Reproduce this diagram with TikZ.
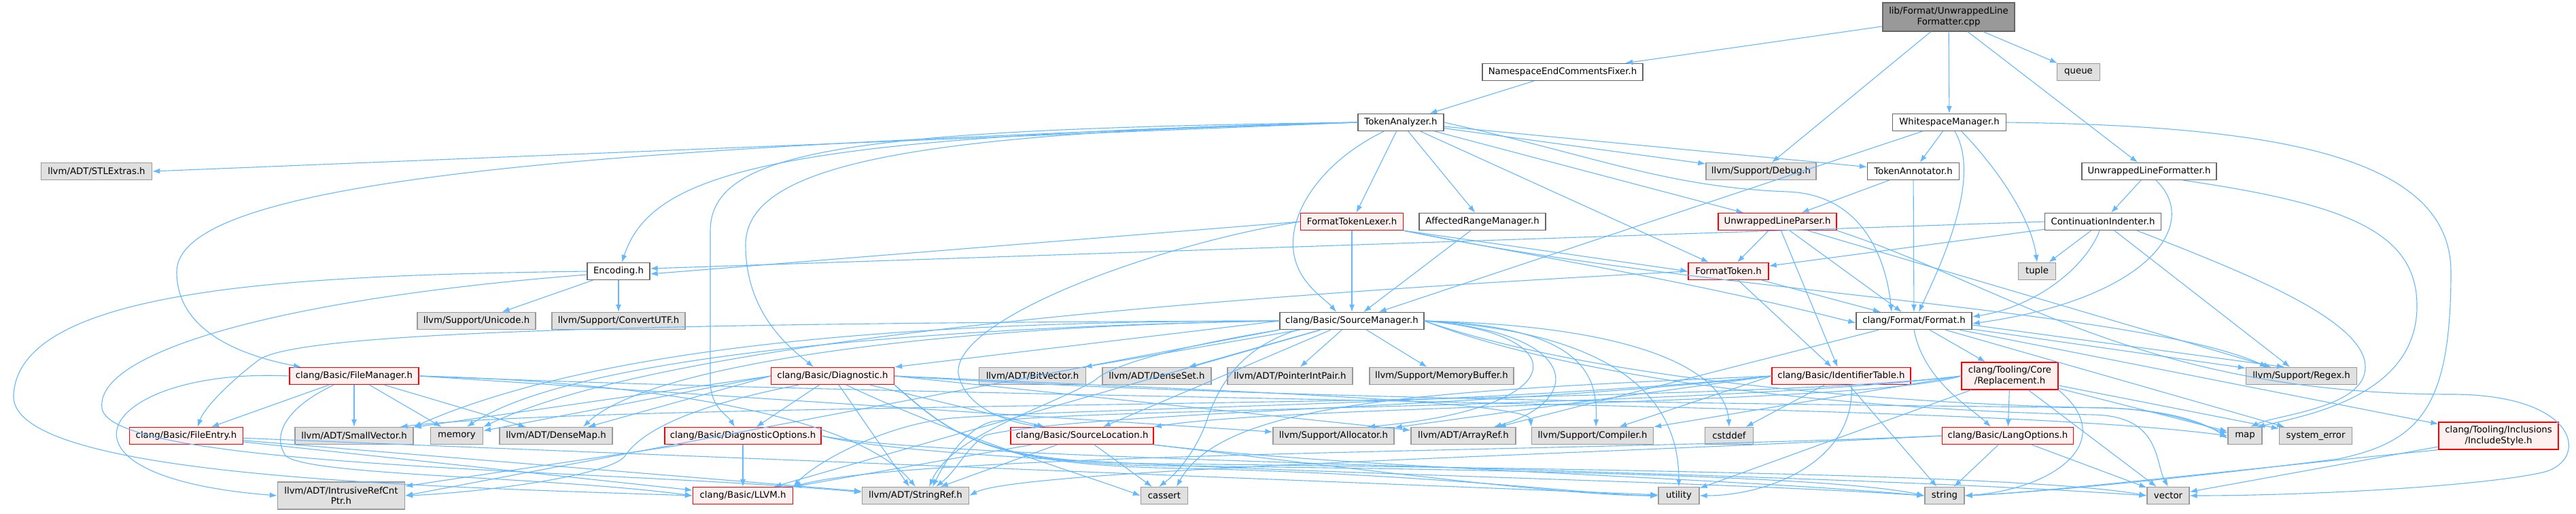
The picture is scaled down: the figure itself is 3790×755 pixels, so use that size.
\documentclass[tikz,border=0pt]{standalone}
\usepackage{fontspec}
\setmainfont{DejaVu Sans}
\usetikzlibrary{arrows.meta}
\definecolor{edgeblue}{HTML}{63B8FF}
\definecolor{extgray}{HTML}{E0E0E0}
\definecolor{truncpink}{HTML}{FFF0F0}
\definecolor{rootgray}{HTML}{999999}
\definecolor{framegray}{HTML}{666666}

\begin{document}
\begin{tikzpicture}[
    x=1pt, y=-1pt,
    filebox/.style={
        rectangle,
        draw=framegray,
        fill=white,
        line width=1.3pt,
        align=center,
        minimum height=25pt,
        inner xsep=4pt,
        inner ysep=2pt,
        font=\fontsize{13.3}{15.5}\selectfont
    },
    extbox/.style={filebox, draw=rootgray, fill=extgray},
    truncbox/.style={filebox, draw=red, fill=truncpink},
    rootbox/.style={filebox, fill=rootgray},
    arrow/.style={-{Latex[length=11pt,width=8pt]}, draw=edgeblue, line width=1.1pt}
]
\useasboundingbox (0,0) rectangle (3790,755);

% Top rows: the source file and the headers it pulls in
\node[rootbox, minimum width=194pt, minimum height=42pt] (root) at (2867,25) {lib/Format/UnwrappedLine\\Formatter.cpp};
\node[filebox, minimum width=236pt] (nsfixer) at (2299,106) {NamespaceEndCommentsFixer.h};
\node[extbox, minimum width=63pt] (queue) at (3058,106) {queue};
\node[filebox, minimum width=126pt] (analyzer) at (2061,180) {TokenAnalyzer.h};
\node[filebox, minimum width=167pt] (wsmanager) at (2868,180) {WhitespaceManager.h};
\node[extbox, minimum width=163pt] (stlextras) at (142,252) {llvm/ADT/STLExtras.h};
\node[extbox, minimum width=162pt] (debug) at (2591,252) {llvm/Support/Debug.h};
\node[filebox, minimum width=135pt] (annotator) at (2815,252) {TokenAnnotator.h};
\node[filebox, minimum width=198pt] (ulformatter) at (3162,252) {UnwrappedLineFormatter.h};
\node[truncbox, minimum width=151pt] (lexer) at (1989,326) {FormatTokenLexer.h};
\node[filebox, minimum width=186pt] (affected) at (2181,326) {AffectedRangeManager.h};
\node[truncbox, minimum width=174pt] (ulparser) at (2615,326) {UnwrappedLineParser.h};
\node[filebox, minimum width=171pt] (indenter) at (3094,326) {ContinuationIndenter.h};
\node[filebox, minimum width=92pt] (encoding) at (910,399) {Encoding.h};
\node[truncbox, minimum width=118pt] (fmttoken) at (2543,399) {FormatToken.h};
\node[extbox, minimum width=55pt] (tuple) at (2997,399) {tuple};
\node[extbox, minimum width=174pt] (unicode) at (701,472) {llvm/Support/Unicode.h};
\node[extbox, minimum width=196pt] (convertutf) at (910,472) {llvm/Support/ConvertUTF.h};
\node[filebox, minimum width=212pt] (srcmgr) at (1989,472) {clang/Basic/SourceManager.h};
\node[filebox, minimum width=170pt] (format) at (2816,472) {clang/Format/Format.h};

% Lower rows: clang, llvm and std headers
\node[truncbox, minimum width=190pt] (filemgr) at (521,553) {clang/Basic/FileManager.h};
\node[truncbox, minimum width=181pt] (diag) at (1225,553) {clang/Basic/Diagnostic.h};
\node[extbox, minimum width=157pt] (bitvector) at (1519,553) {llvm/ADT/BitVector.h};
\node[extbox, minimum width=160pt] (denseset) at (1702,553) {llvm/ADT/DenseSet.h};
\node[extbox, minimum width=184pt] (ptrintpair) at (1898,553) {llvm/ADT/PointerIntPair.h};
\node[extbox, minimum width=212pt] (membuffer) at (2121,553) {llvm/Support/MemoryBuffer.h};
\node[truncbox, minimum width=204pt] (identtable) at (2709,553) {clang/Basic/IdentifierTable.h};
\node[truncbox, minimum width=142pt, minimum height=40pt] (replacement) at (2957,553) {clang/Tooling/Core\\/Replacement.h};
\node[extbox, minimum width=163pt] (regex) at (3386,553) {llvm/Support/Regex.h};
\node[truncbox, minimum width=167pt] (fileentry) at (274,641) {clang/Basic/FileEntry.h};
\node[extbox, minimum width=174pt] (smallvec) at (521,641) {llvm/ADT/SmallVector.h};
\node[extbox, minimum width=77pt] (memory) at (672,641) {memory};
\node[extbox, minimum width=166pt] (densemap) at (818,641) {llvm/ADT/DenseMap.h};
\node[truncbox, minimum width=230pt] (diagopts) at (1093,641) {clang/Basic/DiagnosticOptions.h};
\node[truncbox, minimum width=210pt] (srcloc) at (1592,641) {clang/Basic/SourceLocation.h};
\node[extbox, minimum width=178pt] (allocator) at (1962,641) {llvm/Support/Allocator.h};
\node[extbox, minimum width=154pt] (arrayref) at (2153,641) {llvm/ADT/ArrayRef.h};
\node[extbox, minimum width=179pt] (compiler) at (2343,641) {llvm/Support/Compiler.h};
\node[extbox, minimum width=71pt] (cstddef) at (2544,641) {cstddef};
\node[truncbox, minimum width=193pt] (langopts) at (2954,641) {clang/Basic/LangOptions.h};
\node[extbox, minimum width=50pt] (map) at (3303,641) {map};
\node[extbox, minimum width=107pt] (syserror) at (3407,641) {system\_error};
\node[truncbox, minimum width=176pt, minimum height=40pt] (inclstyle) at (3676,641) {clang/Tooling/Inclusions\\/IncludeStyle.h};
\node[extbox, minimum width=187pt, minimum height=40pt] (refcntptr) at (502,729) {llvm/ADT/IntrusiveRefCnt\\Ptr.h};
\node[truncbox, minimum width=147pt] (llvm) at (1093,729) {clang/Basic/LLVM.h};
\node[extbox, minimum width=157pt] (stringref) at (1347,729) {llvm/ADT/StringRef.h};
\node[extbox, minimum width=69pt] (cassert) at (1713,729) {cassert};
\node[extbox, minimum width=60pt] (utility) at (2470,729) {utility};
\node[extbox, minimum width=58pt] (string) at (2861,729) {string};
\node[extbox, minimum width=62pt] (vector) at (3190,729) {vector};

% UnwrappedLineFormatter.cpp
\draw[arrow] (root) -- (nsfixer);
\draw[arrow] (root) -- (debug);
\draw[arrow] (root) -- (wsmanager);
\draw[arrow] (root) -- (ulformatter);
\draw[arrow] (root) -- (queue);
\draw[arrow] (nsfixer) -- (analyzer);

% TokenAnalyzer.h
\draw[arrow] (analyzer.west) -- (stlextras.east);
\draw[arrow] (analyzer.west) .. controls (900,215) and (260,260) .. (260,400) .. controls (260,480) and (340,520) .. ([xshift=-78]filemgr.north);
\draw[arrow] (analyzer.west) .. controls (1150,200) and (960,250) .. ([xshift=5]encoding.north);
\draw[arrow] (analyzer.west) .. controls (1250,190) and (1045,220) .. (1045,340) -- (1045,560) .. controls (1045,600) and (1070,610) .. ([xshift=-12]diagopts.north);
\draw[arrow] (analyzer.west) .. controls (1350,195) and (1097,240) .. (1097,360) .. controls (1097,460) and (1160,510) .. ([xshift=-28]diag.north);
\draw[arrow] ([xshift=-25]analyzer.south) .. controls (1940,240) and (1890,320) .. (1905,380) .. controls (1915,420) and (1950,440) .. ([xshift=-23]srcmgr.north);
\draw[arrow] (analyzer) -- (lexer);
\draw[arrow] (analyzer) -- (affected);
\draw[arrow] (analyzer) -- (fmttoken);
\draw[arrow] (analyzer) -- (ulparser);
\draw[arrow] (analyzer) -- (debug);
\draw[arrow] (analyzer) -- (annotator);
\draw[arrow] (analyzer.east) .. controls (2350,230) and (2450,275) .. (2630,282) .. controls (2740,286) and (2775,380) .. ([xshift=-33]format.north);

% WhitespaceManager.h
\draw[arrow] (wsmanager) -- (srcmgr);
\draw[arrow] (wsmanager) -- (annotator);
\draw[arrow] ([xshift=8]wsmanager.south) .. controls (2915,260) and (2860,380) .. ([xshift=7]format.north);
\draw[arrow] ([xshift=18]wsmanager.south) .. controls (2950,260) and (2990,330) .. (tuple.north);
\draw[arrow] (wsmanager.east) .. controls (3350,185) and (3606,230) .. (3606,400) .. controls (3606,600) and (3560,650) .. (3440,675) .. controls (3200,705) and (3000,724) .. (string.east);

% UnwrappedLineFormatter.h
\draw[arrow] (ulformatter) -- (indenter);
\draw[arrow] ([xshift=10]ulformatter.south) .. controls (3240,330) and (3160,440) .. ([yshift=-4]format.east);
\draw[arrow] ([xshift=50]ulformatter.south) .. controls (3450,300) and (3556,340) .. (3556,450) .. controls (3556,580) and (3400,610) .. ([xshift=18]map.north);

% ContinuationIndenter.h
\draw[arrow] (indenter.west) -- ([yshift=4]encoding.east);
\draw[arrow] (indenter) -- (fmttoken);
\draw[arrow] (indenter) -- (tuple);
\draw[arrow] ([xshift=-5]indenter.south) .. controls (3070,390) and (3000,450) .. ([yshift=6]format.east);
\draw[arrow] (indenter) -- (regex);
\draw[arrow] ([xshift=50]indenter.south) .. controls (3300,400) and (3480,470) .. (3480,540) .. controls (3480,600) and (3350,610) .. ([xshift=8]map.north);

% TokenAnnotator.h and UnwrappedLineParser.h
\draw[arrow] (annotator) -- (ulparser);
\draw[arrow] (annotator) -- (format);
\draw[arrow] (ulparser) -- (fmttoken);
\draw[arrow] (ulparser) -- (identtable);
\draw[arrow] (ulparser) -- (format);
\draw[arrow] (ulparser) -- (regex);
\draw[arrow] (ulparser.south east) .. controls (2950,420) and (3150,578) .. (3600,580) .. controls (3800,578) and (3810,680) .. (3740,695) .. controls (3650,715) and (3400,729) .. (vector.east);

% FormatTokenLexer.h, AffectedRangeManager.h, FormatToken.h
\draw[arrow] (lexer.west) -- ([yshift=-4]encoding.east);
\draw[arrow] (lexer) -- (srcmgr);
\draw[arrow] (lexer.south east) -- (fmttoken.west);
\draw[arrow] (lexer.south east) .. controls (2300,385) and (2470,410) .. ([yshift=-3]format.west);
\draw[arrow] (lexer.south east) .. controls (2500,430) and (3150,455) .. ([xshift=-50]regex.north);
\draw[arrow] (lexer.west) .. controls (1700,360) and (1400,470) .. (1410,550) .. controls (1420,600) and (1480,620) .. ([xshift=-60]srcloc.north);
\draw[arrow] (affected) -- (srcmgr);
\draw[arrow] (fmttoken) -- (identtable);
\draw[arrow] (fmttoken) -- (format);
\draw[arrow] (fmttoken.west) .. controls (1900,430) and (1000,490) .. (memory.north east);

% Encoding.h
\draw[arrow] (encoding) -- (unicode);
\draw[arrow] (encoding) -- (convertutf);
\draw[arrow] (encoding.west) .. controls (450,405) and (30,420) .. (20,580) .. controls (10,700) and (600,715) .. (llvm.west);
\draw[arrow] ([yshift=-5]encoding.west) .. controls (400,440) and (140,520) .. (150,600) .. controls (160,690) and (900,690) .. ([yshift=5]stringref.west);

% SourceManager.h
\draw[arrow] (srcmgr.west) -- (diag.north east);
\draw[arrow] (srcmgr.west) .. controls (900,475) and (430,490) .. (380,530) .. controls (340,560) and (300,600) .. ([xshift=17]fileentry.north);
\draw[arrow] (srcmgr) -- (llvm);
\draw[arrow] (srcmgr) -- (srcloc);
\draw[arrow] (srcmgr) -- (bitvector);
\draw[arrow] (srcmgr) -- (denseset);
\draw[arrow] (srcmgr) -- (ptrintpair);
\draw[arrow] (srcmgr) -- (membuffer);
\draw[arrow] (srcmgr.south west) .. controls (1790,500) and (1640,530) .. (1610,560) .. controls (1540,600) and (1400,640) .. ([xshift=20]stringref.north);
\draw[arrow] ([xshift=-80]srcmgr.south) .. controls (1830,510) and (1795,560) .. (1775,620) .. controls (1765,650) and (1740,690) .. ([xshift=-8]cassert.north);
\draw[arrow] (srcmgr.south west) -- (refcntptr.east);
\draw[arrow] (srcmgr.west) .. controls (1400,472) and (900,500) .. (smallvec.north east);
\draw[arrow] (srcmgr.west) .. controls (1400,480) and (850,520) .. ([xshift=15]memory.north);
\draw[arrow] (srcmgr.west) .. controls (1350,480) and (950,540) .. ([xshift=40]densemap.north);
\draw[arrow] (srcmgr.east) .. controls (2320,490) and (2320,600) .. ([xshift=50]allocator.north);
\draw[arrow] (srcmgr.east) .. controls (2330,490) and (2330,590) .. ([xshift=45]arrayref.north);
\draw[arrow] (srcmgr.east) .. controls (2340,480) and (2350,560) .. ([xshift=5]compiler.north);
\draw[arrow] (srcmgr.east) .. controls (2450,480) and (2540,560) .. (cstddef.north);
\draw[arrow] (srcmgr.east) .. controls (2400,490) and (2470,600) .. (utility.north);
\draw[arrow] (srcmgr.east) .. controls (2350,560) and (2800,595) .. (3100,600) .. controls (3200,603) and (3250,630) .. ([yshift=4]map.west);
\draw[arrow] (srcmgr.east) .. controls (2350,570) and (2800,605) .. (3080,610) .. controls (3180,612) and (3170,680) .. (vector.north);

% FileManager.h and FileEntry.h
\draw[arrow] (filemgr) -- (fileentry);
\draw[arrow] (filemgr) -- (smallvec);
\draw[arrow] (filemgr) -- (memory);
\draw[arrow] (filemgr) -- (densemap);
\draw[arrow] (filemgr.west) .. controls (150,540) and (40,700) .. (refcntptr.west);
\draw[arrow] ([xshift=-30]filemgr.south) .. controls (420,600) and (400,640) .. (420,670) .. controls (450,700) and (800,700) .. (llvm.west);
\draw[arrow] (filemgr.east) .. controls (900,560) and (1250,600) .. (stringref.north);
\draw[arrow] (filemgr.east) -- (allocator);
\draw[arrow] (filemgr.east) .. controls (1500,590) and (2900,590) .. (map.west);
\draw[arrow] (fileentry) -- (llvm);
\draw[arrow] (fileentry) -- (stringref);
\draw[arrow] (fileentry) -- (utility);

% Diagnostic.h and DiagnosticOptions.h
\draw[arrow] (diag) -- (diagopts);
\draw[arrow] (diag) -- (srcloc);
\draw[arrow] (diag) -- (stringref);
\draw[arrow] (diag.west) -- (densemap);
\draw[arrow] (diag.west) -- (smallvec);
\draw[arrow] (diag.west) -- (memory);
\draw[arrow] ([xshift=-50]diag.south) .. controls (1000,600) and (940,640) .. (920,670) .. controls (900,700) and (700,725) .. (refcntptr.east);
\draw[arrow] ([xshift=20]diag.south) .. controls (1400,640) and (1600,700) .. (cassert.west);
\draw[arrow] (diag.east) -- (arrayref);
\draw[arrow] (diag.east) .. controls (1800,575) and (2250,590) .. (compiler.north west);
\draw[arrow] (diag.east) .. controls (1900,590) and (2700,595) .. (3100,600) .. controls (3200,603) and (3250,625) .. ([yshift=-4]map.west);
\draw[arrow] (diag.south east) .. controls (1400,640) and (1450,680) .. (1700,685) .. controls (2200,690) and (2700,700) .. (string.west);
\draw[arrow] (diag.south east) .. controls (1400,640) and (1450,680) .. (1700,688) .. controls (2100,695) and (2350,729) .. (utility.west);
\draw[arrow] (diag.south east) .. controls (1400,640) and (1450,680) .. (1700,682) .. controls (2400,690) and (3000,700) .. (vector.west);
\draw[arrow] (diagopts) -- (llvm);
\draw[arrow] (diagopts) -- (refcntptr);
\draw[arrow] (diagopts.east) .. controls (1400,690) and (2400,700) .. (string.west);
\draw[arrow] (diagopts.east) .. controls (1400,680) and (2600,690) .. (vector.west);

% SourceLocation.h and IdentifierTable.h
\draw[arrow] (srcloc) -- (llvm);
\draw[arrow] (srcloc) -- (stringref);
\draw[arrow] (srcloc) -- (cassert);
\draw[arrow] (srcloc.south east) .. controls (2000,690) and (2500,700) .. (string.west);
\draw[arrow] (srcloc.south east) .. controls (2000,690) and (2300,729) .. (utility.west);
\draw[arrow] (identtable) -- (cstddef);
\draw[arrow] (identtable) -- (string);
\draw[arrow] ([xshift=15]identtable.south) .. controls (2730,680) and (2600,729) .. (utility.east);
\draw[arrow] (identtable.west) -- (allocator);
\draw[arrow] (identtable.west) -- (compiler);
\draw[arrow] (identtable.west) .. controls (2100,575) and (1800,590) .. ([xshift=18]cassert.north);
\draw[arrow] (identtable.west) .. controls (2200,595) and (1600,600) .. (1400,615) .. controls (1300,625) and (1200,680) .. (llvm.north east);
\draw[arrow] (identtable.west) .. controls (2200,600) and (1600,605) .. (1450,640) .. controls (1420,660) and (1410,690) .. ([xshift=30]stringref.north);

% Format.h
\draw[arrow] (format) -- (replacement);
\draw[arrow] (format.south) .. controls (2830,560) and (2900,600) .. ([xshift=-25]langopts.north);
\draw[arrow] (format) -- (inclstyle);
\draw[arrow] (format) -- (arrayref);
\draw[arrow] (format) -- (regex);
\draw[arrow] ([yshift=-6]format.east) -- ([xshift=-25]regex.north);
\draw[arrow] (format) -- (syserror);

% Replacement.h, LangOptions.h, IncludeStyle.h
\draw[arrow] (replacement) -- (langopts);
\draw[arrow] (replacement) -- (map);
\draw[arrow] (replacement) -- (syserror);
\draw[arrow] (replacement) -- (vector);
\draw[arrow] (replacement) -- (utility);
\draw[arrow] (replacement.south east) .. controls (3120,650) and (3020,720) .. (string.east);
\draw[arrow] (replacement.west) .. controls (2750,595) and (1900,595) .. (srcloc.north east);
\draw[arrow] (replacement.west) .. controls (2500,600) and (900,590) .. ([xshift=-20]smallvec.north east);
\draw[arrow] (replacement.west) .. controls (2500,600) and (1600,600) .. (1460,620) .. controls (1420,630) and (1390,680) .. ([xshift=25]stringref.north);
\draw[arrow] (replacement.west) -- (compiler.north east);
\draw[arrow] (langopts) -- (string);
\draw[arrow] (langopts) -- (vector);
\draw[arrow] (langopts.west) .. controls (2300,665) and (1350,665) .. (llvm.north east);
\draw[arrow] (langopts.west) .. controls (2300,670) and (1500,690) .. (stringref.east);
\draw[arrow] (inclstyle.south west) .. controls (3300,690) and (3000,725) .. (string.east);
\draw[arrow] (inclstyle) -- (vector);

\end{tikzpicture}
\end{document}
